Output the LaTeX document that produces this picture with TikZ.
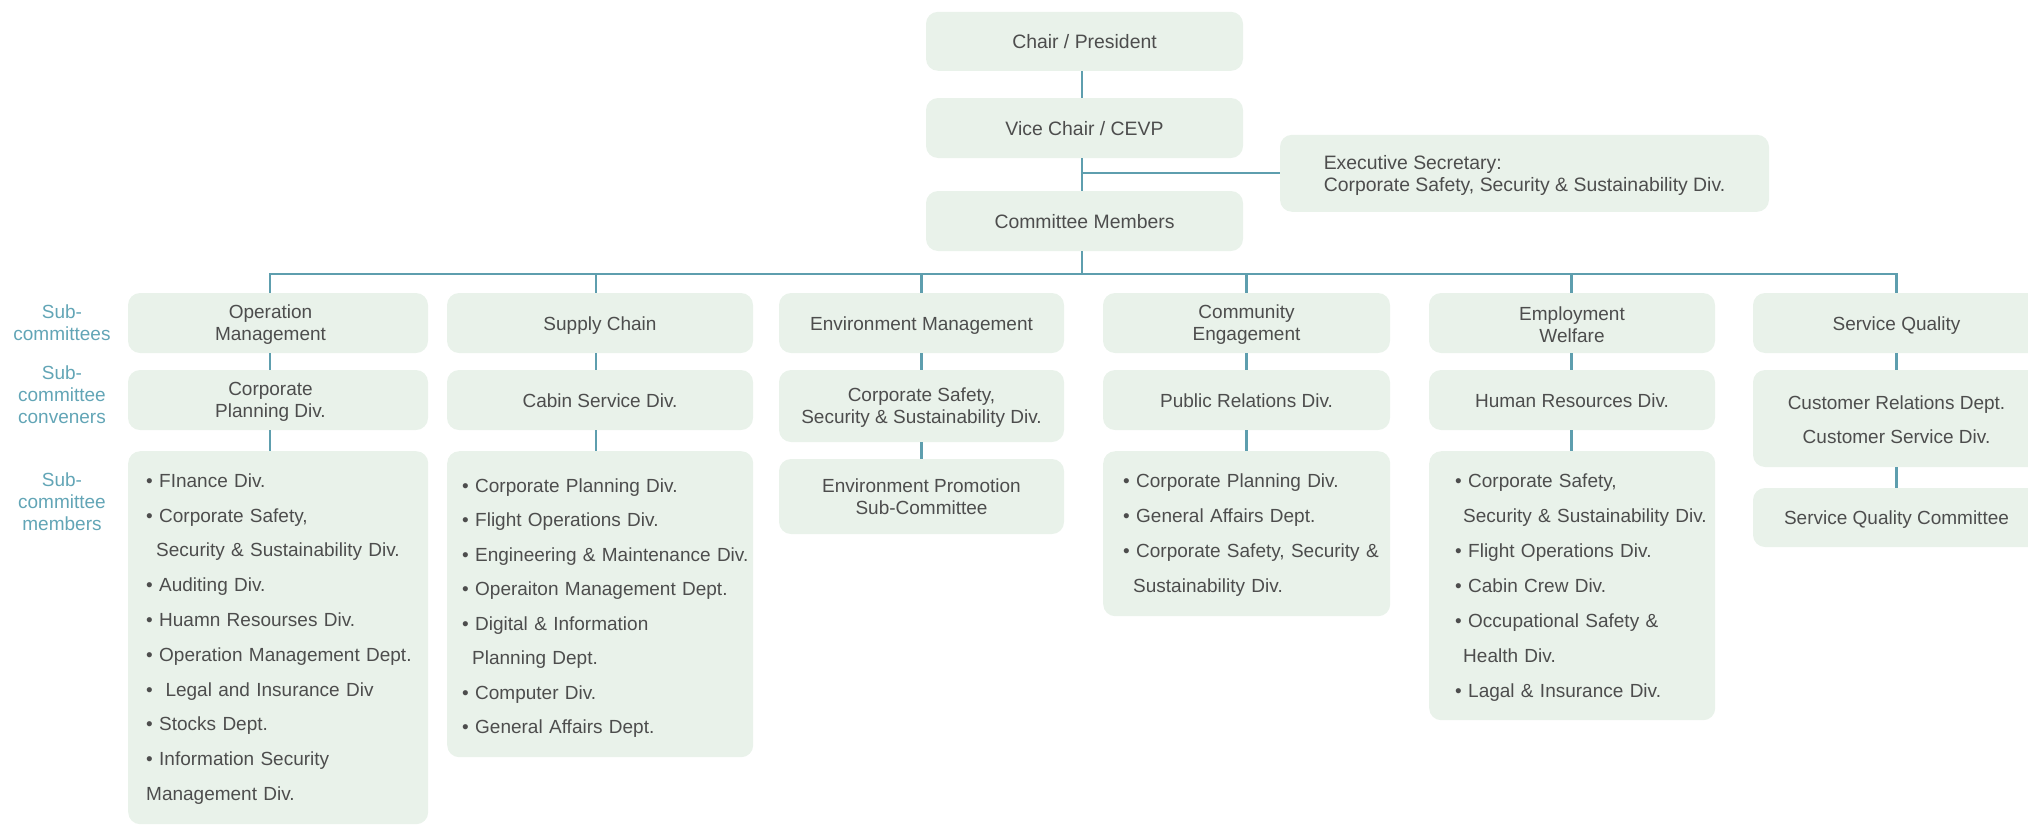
\documentclass[tikz,border=0pt]{standalone}
\usepackage{fontspec}
\setmainfont{Liberation Sans}
\definecolor{boxfill}{HTML}{E9F2EA}
\definecolor{ink}{HTML}{4D4D4D}
\definecolor{wirecol}{HTML}{5E9EAE}
\definecolor{tagcol}{HTML}{62A5B6}
\begin{document}
\begin{tikzpicture}[x=1pt,y=-1pt,
  box/.style={fill=boxfill, rounded corners=12pt, text=ink, align=center,
    inner sep=0pt, font=\fontsize{19}{22}\selectfont},
  topbox/.style={box, font=\fontsize{19.4}{22.4}\selectfont},
  oneline/.style={text height=14pt, text depth=0pt},
  listbox/.style={box, align=left, anchor=north west, font=\fontsize{19}{34.8}\selectfont},
  link/.style={draw=wirecol, line width=2.2pt},
  tagtext/.style={text=tagcol, align=center, font=\fontsize{19}{22}\selectfont},
]
\clip (0,0) rectangle (2028,825);

% top of the chart
\node[topbox, oneline, minimum width=317pt, minimum height=59pt] (chair)   at (1084.5,41.3) {Chair / President};
\node[topbox, oneline, minimum width=317pt, minimum height=60pt] (vice)    at (1084.5,128)  {Vice Chair / CEVP};
\node[topbox, oneline, minimum width=317pt, minimum height=60pt] (members) at (1084.5,221)  {Committee Members};
\node[topbox, align=left, minimum width=489pt, minimum height=77pt] (exec) at (1524.5,173.3)
  {Executive Secretary:\\\smash{Corporate Safety, Security \& Sustainability Div.}};

% row labels
\node[tagtext] (tagA) at (62,323) {Sub-\\committees};
\node[tagtext] (tagB) at (62,395) {Sub-\\committee\\conveners};
\node[tagtext] (tagC) at (62,502) {Sub-\\committee\\members};

% sub-committees
\node[box, minimum width=300pt, minimum height=60pt] (c1) at (278,323)
  {\hspace*{-15pt}Operation\\\hspace*{-15pt}\smash{Management}};
\node[box, oneline, minimum width=306pt, minimum height=60pt] (c2) at (600,323)    {Supply Chain};
\node[box, oneline, minimum width=285pt, minimum height=60pt] (c3) at (921.5,323)  {Environment Management};
\node[box, minimum width=287pt, minimum height=60pt] (c4) at (1246.5,323) {Community\\\smash{Engagement}};
\node[box, minimum width=286pt, minimum height=60pt] (c5) at (1572,323)   {\rule{0pt}{18pt}Employment\\Welfare};
\node[box, oneline, minimum width=287pt, minimum height=60pt] (c6) at (1896.5,323) {Service Quality};

% conveners
\node[box, minimum width=300pt, minimum height=60pt] (v1) at (278,400)
  {\hspace*{-15pt}Corporate\\\hspace*{-15pt}\smash{Planning Div.}};
\node[box, oneline, minimum width=306pt, minimum height=60pt] (v2) at (600,400)    {Cabin Service Div.};
\node[box, minimum width=285pt, minimum height=72pt] (v3) at (921.5,406)
  {Corporate Safety,\\\smash{Security \& Sustainability Div.}};
\node[box, oneline, minimum width=287pt, minimum height=60pt] (v4) at (1246.5,400) {Public Relations Div.};
\node[box, oneline, minimum width=286pt, minimum height=60pt] (v5) at (1572,400)   {Human Resources Div.};
\node[box, minimum width=287pt, minimum height=97pt] (v6) at (1896.5,418.5)
  {\rule{0pt}{16pt}Customer Relations Dept.\\[12pt]Customer Service Div.};

% members
\node[listbox, inner xsep=18pt, text width=264pt, minimum height=373pt] (m1) at (128,451) {%
  \mbox{\rule{0pt}{16.5pt}• FInance Div.}\\
  \mbox{• Corporate Safety,}\\
  \mbox{\hspace{10pt}Security \& Sustainability Div.}\\
  \mbox{• Auditing Div.}\\
  \mbox{• Huamn Resourses Div.}\\
  \mbox{• Operation Management Dept.}\\
  \mbox{•\ \ Legal and Insurance Div}\\
  \mbox{• Stocks Dept.}\\
  \mbox{• Information Security}\\
  \mbox{Management Div.}};
\node[listbox, inner xsep=15pt, text width=276pt, minimum height=306pt,
  font=\fontsize{19}{34.5}\selectfont] (m2) at (447,451) {%
  \mbox{\rule{0pt}{22pt}• Corporate Planning Div.}\\
  \mbox{• Flight Operations Div.}\\
  \mbox{• Engineering \& Maintenance Div.}\\
  \mbox{• Operaiton Management Dept.}\\
  \mbox{• Digital \& Information}\\
  \mbox{\hspace{10pt}Planning Dept.}\\
  \mbox{• Computer Div.}\\
  \mbox{• General Affairs Dept.}};
\node[box, minimum width=285pt, minimum height=75pt] (m3) at (921.5,496.5) {Environment Promotion\\Sub-Committee};
\node[listbox, inner xsep=20pt, text width=247pt, minimum height=165pt] (m4) at (1103,451) {%
  \mbox{\rule{0pt}{16.5pt}• Corporate Planning Div.}\\
  \mbox{• General Affairs Dept.}\\
  \mbox{• Corporate Safety, Security \&}\\
  \mbox{\hspace{10pt}Sustainability Div.}};
\node[listbox, inner xsep=26pt, text width=234pt, minimum height=269pt,
  font=\fontsize{19}{35}\selectfont] (m5) at (1429,451) {%
  \mbox{\rule{0pt}{17.7pt}• Corporate Safety,}\\
  \mbox{\hspace{8pt}Security \& Sustainability Div.}\\
  \mbox{• Flight Operations Div.}\\
  \mbox{• Cabin Crew Div.}\\
  \mbox{• Occupational Safety \&}\\
  \mbox{\hspace{8pt}Health Div.}\\
  \mbox{• Lagal \& Insurance Div.}};
\node[box, oneline, minimum width=287pt, minimum height=59pt] (m6) at (1896.5,517.5) {Service Quality Committee};

% connector anchors
\coordinate (spine) at (1082,0);
\coordinate (L1) at (270,274);
\coordinate (L2) at (596,274);
\coordinate (L3) at (921.5,274);
\coordinate (L4) at (1246.5,274);
\coordinate (L5) at (1571.5,274);
\coordinate (L6) at (1896.5,274);

% chain of command
\draw[link] (chair.south -| spine) -- (vice.north -| spine);
\draw[link] (vice.south -| spine) -- (members.north -| spine);
\draw[link] (exec.west) -- (exec.west -| spine);
\draw[link] (members.south -| spine) -- (spine |- L1);

% bus to the sub-committees
\draw[link] (c1.north -| L1) -- (L1) -- (L6) -- (c6.north -| L6);
\foreach \k in {2,3,4,5} {
  \draw[link] (L\k) -- (c\k.north -| L\k);
}

% within each column
\foreach \k in {1,...,6} {
  \draw[link] (c\k.south -| L\k) -- (v\k.north -| L\k);
  \draw[link] (v\k.south -| L\k) -- (m\k.north -| L\k);
}
\end{tikzpicture}
\end{document}
